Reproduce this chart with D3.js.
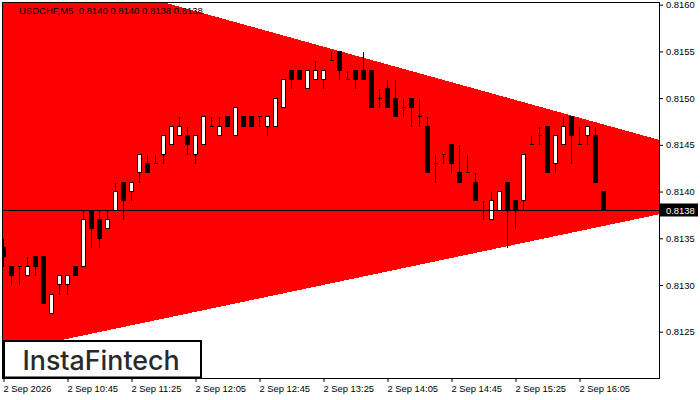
<!DOCTYPE html>
<html><head><meta charset="utf-8">
<script src="https://cdn.jsdelivr.net/npm/d3@7"></script>
<style>html,body{margin:0;padding:0;background:#fff;} svg{display:block;}</style>
</head><body>
<script>
const symbol = "USDCHF,M5";
const opens  = [0.8134,0.8132,0.8132,0.8131,0.8133,0.8133,0.8127,0.8130,0.8130,0.8132,
                0.8132,0.8138,0.8137,0.8136,0.8138,0.8141,0.8140,0.8142,0.8143,0.8143,
                0.8144,0.8145,0.8146,0.8146,0.8144,0.8145,0.8147,0.8146,0.8148,0.8146,
                0.8148,0.8148,0.8148,0.8147,0.8147,0.8149,0.8153,0.8153,0.8151,0.8152,
                0.8152,0.8154,0.8155,0.8152,0.8153,0.8153,0.8153,0.8150,0.8151,0.8150,
                0.8149,0.8150,0.8148,0.8147,0.8143,0.8144,0.8145,0.8142,0.8142,0.8141,
                0.8138,0.8137,0.8138,0.8141,0.8139,0.8139,0.8145,0.8146,0.8147,0.8143,
                0.8145,0.8148,0.8145,0.8146,0.8146,0.8140];
const highs  = [0.8135,0.8132,0.8132,0.8133,0.8133,0.8133,0.8129,0.8131,0.8131,0.8132,
                0.8138,0.8138,0.8138,0.8138,0.8141,0.8141,0.8141,0.8144,0.8144,0.8144,
                0.8146,0.8147,0.8148,0.8147,0.8146,0.8148,0.8148,0.8148,0.8148,0.8149,
                0.8148,0.8148,0.8148,0.8148,0.8150,0.8152,0.8153,0.8153,0.8153,0.8154,
                0.8153,0.8155,0.8155,0.8153,0.8153,0.8155,0.8153,0.8151,0.8152,0.8152,
                0.8150,0.8150,0.8150,0.8148,0.8144,0.8144,0.8145,0.8145,0.8144,0.8142,
                0.8139,0.8140,0.8140,0.8141,0.8139,0.8144,0.8146,0.8147,0.8147,0.8146,
                0.8148,0.8148,0.8147,0.8147,0.8147,0.8140];
const lows   = [0.8132,0.8130,0.8130,0.8131,0.8131,0.8128,0.8127,0.8129,0.8129,0.8131,
                0.8132,0.8134,0.8134,0.8136,0.8138,0.8137,0.8139,0.8141,0.8142,0.8143,
                0.8143,0.8145,0.8146,0.8144,0.8143,0.8145,0.8147,0.8146,0.8147,0.8146,
                0.8147,0.8147,0.8147,0.8146,0.8147,0.8149,0.8151,0.8152,0.8151,0.8152,
                0.8151,0.8154,0.8152,0.8152,0.8151,0.8152,0.8149,0.8149,0.8149,0.8148,
                0.8148,0.8147,0.8147,0.8142,0.8141,0.8143,0.8142,0.8141,0.8142,0.8139,
                0.8137,0.8137,0.8138,0.8134,0.8136,0.8138,0.8145,0.8145,0.8142,0.8142,
                0.8145,0.8143,0.8145,0.8145,0.8141,0.8138];
const closes = [0.8133,0.8131,0.8132,0.8132,0.8132,0.8128,0.8129,0.8131,0.8131,0.8131,
                0.8137,0.8136,0.8135,0.8137,0.8140,0.8139,0.8141,0.8144,0.8142,0.8143,
                0.8146,0.8147,0.8147,0.8145,0.8146,0.8148,0.8147,0.8147,0.8147,0.8149,
                0.8147,0.8147,0.8148,0.8148,0.8150,0.8152,0.8152,0.8152,0.8153,0.8153,
                0.8153,0.8154,0.8153,0.8152,0.8152,0.8152,0.8149,0.8150,0.8149,0.8148,
                0.8149,0.8149,0.8148,0.8142,0.8143,0.8144,0.8143,0.8141,0.8142,0.8139,
                0.8138,0.8139,0.8140,0.8138,0.8138,0.8144,0.8145,0.8146,0.8142,0.8146,
                0.8147,0.8146,0.8145,0.8147,0.8141,0.8138];
const xTickIndex  = [0,8,16,24,32,40,48,56,64,72];
const xTickLabels = ["2 Sep 2026","2 Sep 10:45","2 Sep 11:25","2 Sep 12:05","2 Sep 12:45",
                     "2 Sep 13:25","2 Sep 14:05","2 Sep 14:45","2 Sep 15:25","2 Sep 16:05"];
const yTicks = [0.8125,0.8130,0.8135,0.8140,0.8145,0.8150,0.8155,0.8160];
const currentPrice = 0.8138;
const triangleIndex = [-10, 101, -10];
const trianglePrice = [0.81674, 0.81410, 0.81210];
const logoText = "InstaFintech";

(function () {
const W = 700, H = 400;
const pLeft = 3, pRight = 659, pTop = 2, pBottom = 378.5;
const fmt = d3.format(".4f");
const FONT = "'Liberation Sans', Arial, sans-serif";

const svg = d3.select("body").append("svg").attr("width", W).attr("height", H);
svg.append("rect").attr("width", W).attr("height", H).attr("fill", "#fff");

const x = d3.scaleLinear().domain([0, 75]).range([3.5, 603.5]);
const y = d3.scaleLinear().domain([0.8125, 0.8160]).range([331.7, 4.7]);
const py = p => Math.floor(y(p)) + 0.5;

svg.append("clipPath").attr("id", "plot").append("rect")
  .attr("x", pLeft).attr("y", pTop).attr("width", pRight - pLeft).attr("height", pBottom - pTop);

const g = svg.append("g").attr("clip-path", "url(#plot)");

// triangle
const tri = triangleIndex.map((d, i) => [x(d), y(trianglePrice[i])]);
g.append("path").attr("d", d3.line()(tri) + "Z")
  .attr("fill", "#ff0000").attr("shape-rendering", "crispEdges");

// candles
const bars = d3.range(opens.length);
g.selectAll("line.wick").data(bars).join("line").attr("class", "wick")
  .attr("x1", i => x(i)).attr("x2", i => x(i))
  .attr("y1", i => py(highs[i])).attr("y2", i => py(lows[i]) + 0.5)
  .attr("stroke", "#000").attr("stroke-width", 1).attr("shape-rendering", "crispEdges");

g.selectAll("path.body").data(bars).join("path").attr("class", "body")
  .attr("d", i => {
    const x0 = x(i) - 2, x1 = x(i) + 2;
    const yA = py(Math.max(opens[i], closes[i])), yB = py(Math.min(opens[i], closes[i]));
    return `M${x0},${yA}H${x1}V${yB}H${x0}Z`;
  })
  .attr("fill", i => closes[i] > opens[i] ? "#fff" : "#000")
  .attr("stroke", "#000").attr("stroke-width", 1).attr("shape-rendering", "crispEdges");

// current price line
g.append("line").attr("x1", pLeft).attr("x2", pRight)
  .attr("y1", py(currentPrice)).attr("y2", py(currentPrice))
  .attr("stroke", "#000").attr("stroke-width", 1);

// frame
svg.append("rect").attr("x", 2.5).attr("y", 2.5).attr("width", 657).attr("height", 376)
  .attr("fill", "none").attr("stroke", "#000").attr("stroke-width", 1);

// y axis
const yAxis = svg.append("g").attr("transform", "translate(659,0)")
  .call(d3.axisRight(y).tickValues(yTicks).tickSize(4).tickPadding(3).tickFormat(fmt));
yAxis.select(".domain").remove();
yAxis.selectAll("text").attr("font-family", FONT).attr("font-size", 9.4).attr("fill", "#000");
yAxis.selectAll("line").attr("stroke", "#000");

// current price label
svg.append("rect").attr("x", 660).attr("y", py(currentPrice) - 7).attr("width", 38).attr("height", 13)
  .attr("fill", "#000");
svg.append("text").attr("x", 666).attr("y", py(currentPrice) + 3.5).text(fmt(currentPrice))
  .attr("font-family", FONT).attr("font-size", 9.4).attr("fill", "#fff");

// x axis
const xAxis = svg.append("g").attr("transform", "translate(0,378)")
  .call(d3.axisBottom(x).tickValues(xTickIndex).tickSize(4).tickPadding(3)
    .tickFormat((d, i) => xTickLabels[i]));
xAxis.select(".domain").remove();
xAxis.selectAll("text").attr("font-family", FONT).attr("font-size", 9.4).attr("fill", "#000")
  .attr("text-anchor", "start").attr("dx", -0.5);
xAxis.selectAll("line").attr("stroke", "#000");

// title
const last = opens.length - 1;
svg.append("text").attr("x", 19).attr("y", 14)
  .attr("font-family", FONT).attr("font-size", 9.5).attr("fill", "#000")
  .attr("xml:space", "preserve").style("white-space", "pre")
  .text(`${symbol}  ${fmt(opens[last])} ${fmt(highs[last])} ${fmt(lows[last])} ${fmt(closes[last])}`);

// logo
svg.append("rect").attr("x", 4).attr("y", 341).attr("width", 197).attr("height", 36.5)
  .attr("fill", "#fff").attr("stroke", "#000").attr("stroke-width", 2);
svg.append("text").attr("x", 22.5).attr("y", 369.5).text(logoText)
  .attr("font-family", "Inter, 'Liberation Sans', sans-serif").attr("font-weight", 500)
  .attr("font-size", 26.8).attr("fill", "#2a2a2a");
})();
</script>
</body></html>
